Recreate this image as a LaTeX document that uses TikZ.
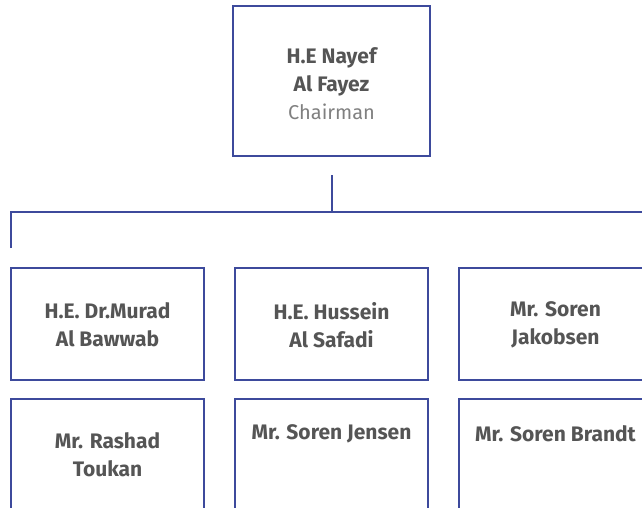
\documentclass[tikz,border=0pt]{standalone}
\usepackage{fontspec}
\setmainfont{Fira Sans}
\definecolor{navy}{HTML}{3D4A9C}
\definecolor{txt}{HTML}{555555}
\definecolor{sub}{HTML}{808080}
\begin{document}
\begin{tikzpicture}[x=1pt,y=-1pt,
  box/.style={draw=navy,line width=1.2pt,fill=white},
  line/.style={draw=navy,line width=1.2pt},
  person/.style={font=\fontsize{21}{28}\selectfont\bfseries,text=txt,align=center,inner sep=0pt}]
\useasboundingbox (0,0) rectangle (642,508);
\draw[box] (233,6) rectangle (430,156);
\node[person] (top) at (331.5,84) {H.E Nayef\\Al Fayez\\{\fontsize{20}{28}\selectfont\mdseries\color{sub}Chairman}};
\coordinate (tb) at (332,175);
\coordinate (tj) at (332,212);
\coordinate (tl) at (11,212);
\coordinate (tr) at (645,212);
\coordinate (tlb) at (11,248);
\draw[line] (tb) -- (tj);
\draw[line] (tlb) -- (tl) -- (tr);
% row 1
\draw[box] (11,268) rectangle (204,380);
\draw[box] (235,268) rectangle (428,380);
\draw[box] (459,268) rectangle (652,380);
\node[person] (a1) at (107.5,325) {H.E. Dr.Murad\\Al Bawwab};
\node[person] (b1) at (331.5,325) {H.E. Hussein\\Al Safadi};
\node[person] (c1) at (555.5,325) {Mr. Soren\\Jakobsen};
% row 2
\draw[box] (11,399) rectangle (204,520);
\draw[box] (235,399) rectangle (428,520);
\draw[box] (459,399) rectangle (652,520);
\node[person] (a2) at (107.5,455) {Mr. Rashad\\Toukan};
\node[person] (b2) at (331.5,434) {Mr. Soren Jensen};
\node[person] (c2) at (555.5,434) {Mr. Soren Brandt};
\end{tikzpicture}
\end{document}
